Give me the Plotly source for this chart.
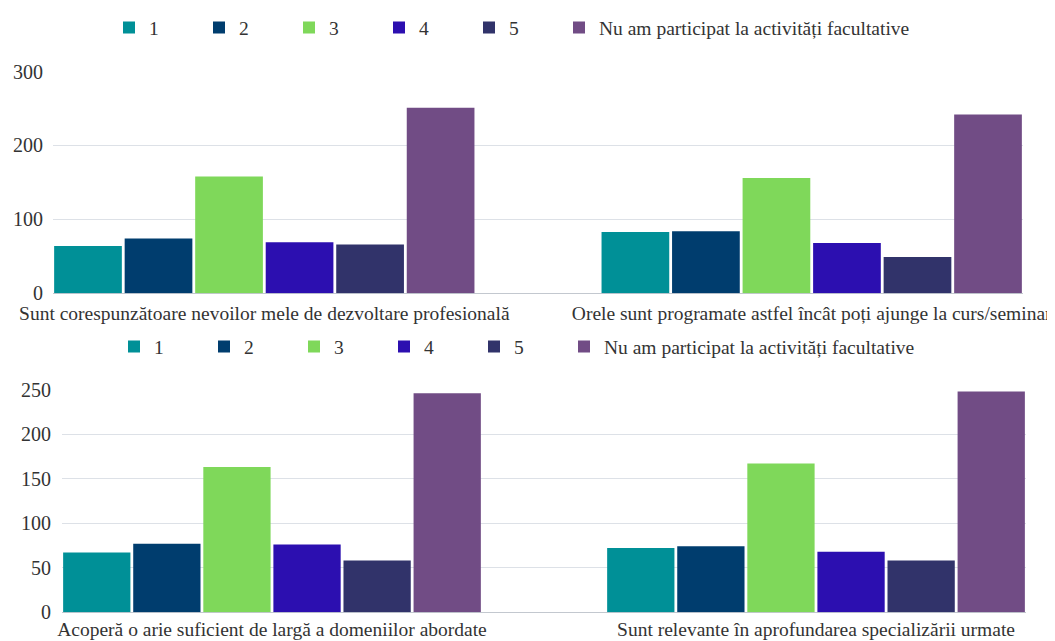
import plotly.graph_objects as go

series = ["1", "2", "3", "4", "5", "Nu am participat la activități facultative"]
colors = ["#009097", "#003d6e", "#7fd85a", "#2c0fb0", "#31336a", "#714c85"]

cats_top = ["Sunt corespunzătoare nevoilor mele de dezvoltare profesională",
            "Orele sunt programate astfel încât poți ajunge la curs/seminar"]
vals_top = [[64, 83], [74, 84], [158, 156], [69, 68], [66, 49], [251, 242]]

cats_bot = ["Acoperă o arie suficient de largă a domeniilor abordate",
            "Sunt relevante în aprofundarea specializării urmate"]
vals_bot = [[67, 72], [77, 74], [163, 167], [76, 68], [58, 58], [246, 248]]

# page body has an 8px margin, so the figure is a bit smaller than the window
W, H = 1047, 633
FONT = "'Liberation Serif', 'Times New Roman', Times, serif"
TXT = "#333333"


def px(x):
    return x / W


def py(y):
    return 1 - y / H


fig = go.Figure()
for i, name in enumerate(series):
    fig.add_trace(go.Bar(x=cats_top, y=vals_top[i], name=name, marker_color=colors[i],
                         xaxis="x", yaxis="y", legend="legend", offsetgroup=str(i)))
for i, name in enumerate(series):
    fig.add_trace(go.Bar(x=cats_bot, y=vals_bot[i], name=name, marker_color=colors[i],
                         xaxis="x2", yaxis="y2", legend="legend2", offsetgroup=str(i)))

# invisible spacer entries so the long last legend label is not clipped
for leg in ["legend", "legend2"]:
    for k in range(4):
        fig.add_trace(go.Bar(x=[None], y=[None], name="", marker_color="rgba(0,0,0,0)",
                             xaxis="x3", yaxis="y3", legend=leg, showlegend=True,
                             hoverinfo="skip"))

fig.update_traces(marker_line_width=0)

xcommon = dict(type="category", range=[-0.386, 1.386], showgrid=False, ticks="",
               tickangle=0, automargin=False, showline=False, zeroline=False,
               tickfont=dict(size=19.5, color=TXT, family=FONT))
ycommon = dict(showgrid=True, gridcolor="#dde1e7", gridwidth=1, ticks="",
               zeroline=True, zerolinecolor="#c3c8cf", zerolinewidth=1,
               automargin=False, showline=False,
               tickfont=dict(size=20, color=TXT, family=FONT))

legcommon = dict(orientation="h", xanchor="left", yanchor="middle",
                 font=dict(size=19.5, color=TXT, family=FONT),
                 entrywidth=45, bgcolor="rgba(0,0,0,0)")

fig.update_layout(
    width=W, height=H,
    margin=dict(l=0, r=0, t=0, b=0),
    template="none",
    paper_bgcolor="white", plot_bgcolor="white",
    font=dict(family=FONT, color=TXT, size=19),
    barmode="group", bargap=0.227, bargroupgap=0.04,
    xaxis=dict(domain=[px(45), px(1015)], anchor="y", ticklabelstandoff=6, **xcommon),
    yaxis=dict(domain=[py(283), py(60)], anchor="x", range=[0, 300],
               tickvals=[0, 100, 200, 300], ticklabelstandoff=9, **ycommon),
    xaxis2=dict(domain=[px(54), px(1018)], anchor="y2", ticklabelstandoff=3, **xcommon),
    yaxis2=dict(domain=[py(604), py(380)], anchor="x2", range=[0, 250],
                tickvals=[0, 50, 100, 150, 200, 250], ticklabelstandoff=10, **ycommon),
    xaxis3=dict(domain=[0, 0.01], anchor="y3", visible=False),
    yaxis3=dict(domain=[0, 0.01], anchor="x3", visible=False),
    legend=dict(x=px(101), y=py(16), **legcommon),
    legend2=dict(x=px(106), y=py(337), **legcommon),
)

fig.write_html("out.html")
